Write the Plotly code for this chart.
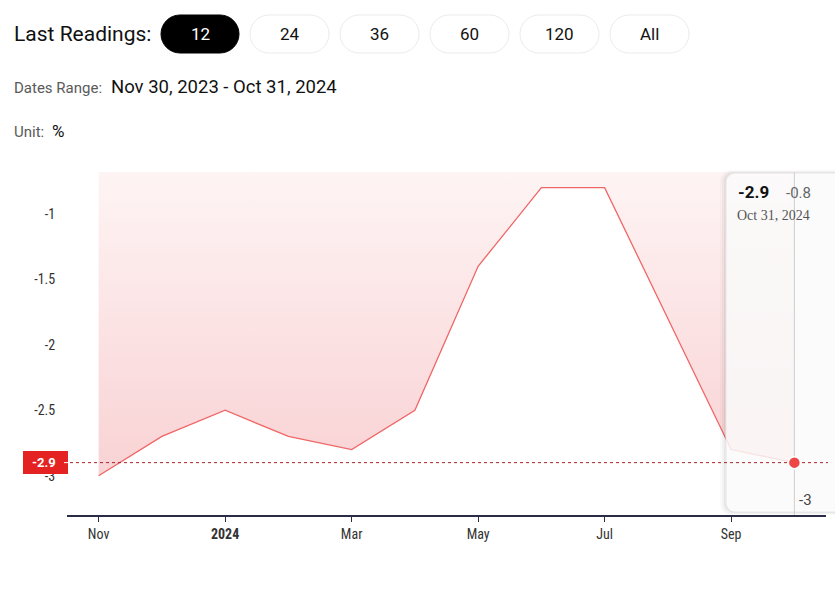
import plotly.graph_objects as go

# ---- data ----
dates = ["Nov 30, 2023", "Dec 31, 2023", "Jan 31, 2024", "Feb 29, 2024", "Mar 31, 2024",
         "Apr 30, 2024", "May 31, 2024", "Jun 30, 2024", "Jul 31, 2024", "Aug 31, 2024",
         "Sep 30, 2024", "Oct 31, 2024"]
values = [-3.0, -2.7, -2.5, -2.7, -2.8, -2.5, -1.4, -0.8, -0.8, -1.8, -2.8, -2.9]
x_tick_idx = [0, 2, 4, 6, 8, 10]
x_tick_text = ["Nov", "<b>2024</b>", "Mar", "May", "Jul", "Sep"]
y_ticks = [-1, -1.5, -2, -2.5, -3]
y_range = [-3.30, -0.68]
buttons = ["12", "24", "36", "60", "120", "All"]
last_value = values[-1]
last_date = dates[-1]
max_value = max(values)
min_label = "-3"

# ---- layout geometry (pixels) ----
W, H = 835, 599
L, R, T, B = 67, 826, 172, 515
PW, PH = R - L, B - T


def px2x(px):
    return (px - L) / PW


def py2y(py):
    return (B - py) / PH


def rel(px, py):
    return f"{px - L:.2f},{B - py:.2f}"


def pill(x0, x1, y0, y1):
    r = (y1 - y0) / 2
    k = 0.5523 * r
    ym = (y0 + y1) / 2
    return (f"M{rel(x0 + r, y0)} L{rel(x1 - r, y0)} "
            f"C{rel(x1 - r + k, y0)} {rel(x1, ym - k)} {rel(x1, ym)} "
            f"C{rel(x1, ym + k)} {rel(x1 - r + k, y1)} {rel(x1 - r, y1)} "
            f"L{rel(x0 + r, y1)} "
            f"C{rel(x0 + r - k, y1)} {rel(x0, ym + k)} {rel(x0, ym)} "
            f"C{rel(x0, ym - k)} {rel(x0 + r - k, y0)} {rel(x0 + r, y0)} Z")


def rounded_left(x0, x1, y0, y1, r):
    k = 0.5523 * r
    return (f"M{rel(x0 + r, y0)} L{rel(x1, y0)} L{rel(x1, y1)} L{rel(x0 + r, y1)} "
            f"C{rel(x0 + r - k, y1)} {rel(x0, y1 - r + k)} {rel(x0, y1 - r)} "
            f"L{rel(x0, y0 + r)} "
            f"C{rel(x0, y0 + r - k)} {rel(x0 + r - k, y0)} {rel(x0 + r, y0)} Z")


idx = list(range(len(dates)))
fig = go.Figure()
fig.add_trace(go.Scatter(x=idx, y=[y_range[1]] * len(idx), mode="lines",
                         line=dict(width=0), hoverinfo="skip", showlegend=False))
fig.add_trace(go.Scatter(
    x=idx, y=values, mode="lines", fill="tonexty",
    fillgradient=dict(type="vertical",
                      colorscale=[[0, "rgba(249,210,212,1)"], [1, "rgba(254,244,244,1)"]]),
    line=dict(color="#f06666", width=1.3), showlegend=False,
    customdata=dates, hovertemplate="%{y}<br>%{customdata}<extra></extra>"))

shapes = []
anns = []
pix = dict(xref="paper", yref="paper", xsizemode="pixel", ysizemode="pixel",
           xanchor=0, yanchor=0)

# buttons
bx = [(161, 239), (250, 329), (340, 419), (430, 509), (520, 599), (610, 689)]
for i, (lab, (x0, x1)) in enumerate(zip(buttons, bx)):
    active = i == 0
    shapes.append(dict(type="path", path=pill(x0, x1, 15, 53), layer="above",
                       fillcolor="#000000" if active else "#ffffff",
                       line=dict(color="#000000" if active else "#ebebeb", width=1), **pix))
    anns.append(dict(text=lab, x=px2x((x0 + x1) / 2), y=py2y(34), xref="paper", yref="paper",
                     showarrow=False, xanchor="center", yanchor="middle",
                     font=dict(family="Roboto", size=17,
                               color="#ffffff" if active else "#111111")))

anns.append(dict(text="Last Readings:", x=px2x(12), y=py2y(34), xref="paper", yref="paper",
                 showarrow=False, xanchor="left", yanchor="middle",
                 font=dict(family="Roboto", size=21, color="#111111")))
anns.append(dict(text="Dates Range:", x=px2x(12), y=py2y(88), xref="paper", yref="paper",
                 showarrow=False, xanchor="left", yanchor="middle",
                 font=dict(family="Roboto", size=15, color="#5a5a5a")))
anns.append(dict(text=f"{dates[0]} - {last_date}", x=px2x(109), y=py2y(87), xref="paper",
                 yref="paper", showarrow=False, xanchor="left", yanchor="middle",
                 font=dict(family="Roboto", size=18.5, color="#111111")))
anns.append(dict(text="Unit:", x=px2x(12), y=py2y(132), xref="paper", yref="paper",
                 showarrow=False, xanchor="left", yanchor="middle",
                 font=dict(family="Roboto", size=15, color="#5a5a5a")))
anns.append(dict(text="%", x=px2x(50), y=py2y(131), xref="paper", yref="paper",
                 showarrow=False, xanchor="left", yanchor="middle",
                 font=dict(family="Roboto", size=17, color="#111111")))

# tooltip panel with soft shadow
for off, op in [(6, 0.02), (4, 0.03), (2, 0.045)]:
    shapes.append(dict(type="path", path=rounded_left(726 - off, 840, 173 - off / 2, 512 + off / 2, 10),
                       fillcolor=f"rgba(0,0,0,{op})", line=dict(width=0), layer="above", **pix))
shapes.append(dict(type="path", path=rounded_left(726, 840, 173, 512, 9),
                   fillcolor="rgba(255,255,255,0.82)", line=dict(color="#e6e6e6", width=1),
                   layer="above", **pix))
# crosshair vertical line
shapes.append(dict(type="line", xref="x", yref="paper", x0=idx[-1], x1=idx[-1], y0=0, y1=1,
                   line=dict(color="#cfcfcf", width=1), layer="above"))
# dotted horizontal line at last value
shapes.append(dict(type="line", xref="paper", yref="y", x0=px2x(70), x1=px2x(828),
                   y0=last_value, y1=last_value,
                   line=dict(color="#a8232a", width=1, dash="dot"), layer="above"))
# red label box
shapes.append(dict(type="rect", xref="paper", yref="paper", x0=px2x(23), x1=px2x(68),
                   y0=py2y(474), y1=py2y(451), fillcolor="#e52222", line=dict(width=0),
                   layer="above"))
shapes.append(dict(type="line", xref="paper", yref="y", x0=px2x(64), x1=px2x(68),
                   y0=last_value, y1=last_value, line=dict(color="#ffffff", width=1),
                   layer="above"))
anns.append(dict(text=f"<b>{last_value}</b>", x=px2x(44), y=py2y(462), xref="paper", yref="paper",
                 showarrow=False, xanchor="center", yanchor="middle",
                 font=dict(family="Roboto", size=13, color="#ffffff")))
# last point dot
shapes.append(dict(type="circle", xref="x", yref="y", xsizemode="pixel", ysizemode="pixel",
                   xanchor=idx[-1], yanchor=last_value, x0=-6, x1=6, y0=-6, y1=6,
                   fillcolor="#ee4646", line=dict(color="#ffffff", width=1.5), layer="above"))

# tooltip texts
anns.append(dict(text=f"<b>{last_value}</b>", x=px2x(736), y=py2y(192), xref="paper", yref="paper",
                 showarrow=False, xanchor="left", yanchor="middle",
                 font=dict(family="Roboto", size=17, color="#111111")))
anns.append(dict(text=f"{max_value}", x=px2x(784), y=py2y(193), xref="paper", yref="paper",
                 showarrow=False, xanchor="left", yanchor="middle",
                 font=dict(family="Roboto", size=15, color="#666666")))
anns.append(dict(text=last_date, x=px2x(735), y=py2y(215), xref="paper", yref="paper",
                 showarrow=False, xanchor="left", yanchor="middle",
                 font=dict(family="Liberation Serif", size=14, color="#555555")))
anns.append(dict(text=min_label, x=px2x(797), y=py2y(500), xref="paper", yref="paper",
                 showarrow=False, xanchor="left", yanchor="middle",
                 font=dict(family="Roboto", size=15, color="#444444")))

fig.update_layout(
    width=W, height=H, margin=dict(l=L, r=W - R, t=T, b=H - B),
    paper_bgcolor="#ffffff", plot_bgcolor="#ffffff", showlegend=False,
    shapes=shapes, annotations=anns, hovermode="x",
    xaxis=dict(range=[-0.5, len(idx) - 0.5], tickvals=x_tick_idx, ticktext=x_tick_text,
               showgrid=False, zeroline=False, showline=True, linecolor="#2b2b45", linewidth=1.5,
               ticks="outside", ticklen=5, tickcolor="#2b2b45", tickwidth=1,
               tickfont=dict(family="Liberation Sans Narrow, Roboto Condensed, Roboto",
                             size=14, color="#333333")),
    yaxis=dict(range=y_range, tickvals=y_ticks, ticktext=[str(v) for v in y_ticks],
               showgrid=False, zeroline=False, showline=False,
               ticks="outside", ticklen=8, tickcolor="rgba(0,0,0,0)",
               tickfont=dict(family="Liberation Sans Narrow, Roboto Condensed, Roboto",
                             size=14, color="#333333")),
)

fig.write_html("out.html")
